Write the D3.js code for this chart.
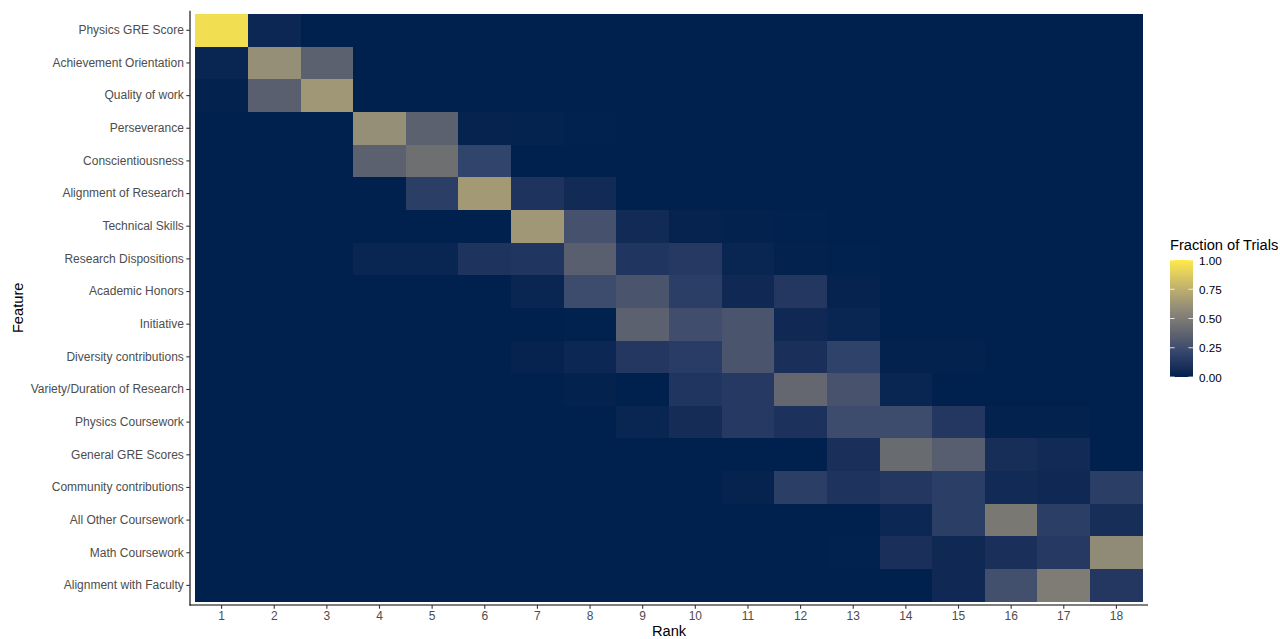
<!DOCTYPE html>
<html>
<head>
<meta charset="utf-8">
<script src="https://cdn.jsdelivr.net/npm/d3@7"></script>
<style>
  html, body { margin: 0; padding: 0; background: #ffffff; }
  svg { display: block; font-family: "Liberation Sans", Arial, Helvetica, sans-serif; }
</style>
</head>
<body>
<svg id="chart" width="1280" height="639"></svg>
<script>
// ---- Data ----
const features = [
  "Physics GRE Score",
  "Achievement Orientation",
  "Quality of work",
  "Perseverance",
  "Conscientiousness",
  "Alignment of Research",
  "Technical Skills",
  "Research Dispositions",
  "Academic Honors",
  "Initiative",
  "Diversity contributions",
  "Variety/Duration of Research",
  "Physics Coursework",
  "General GRE Scores",
  "Community contributions",
  "All Other Coursework",
  "Math Coursework",
  "Alignment with Faculty"
];
const ranks = [1,2,3,4,5,6,7,8,9,10,11,12,13,14,15,16,17,18];

// fraction of trials: one row per feature, one value per rank 1..18
const rowPhysicsGRE      = [0.95,0.04,0,0,0,0,0,0,0,0,0,0,0,0,0,0,0,0];
const rowAchievement     = [0.03,0.60,0.36,0,0,0,0,0,0,0,0,0,0,0,0,0,0,0];
const rowQuality         = [0.01,0.35,0.64,0,0,0,0,0,0,0,0,0,0,0,0,0,0,0];
const rowPerseverance    = [0,0,0,0.60,0.36,0.02,0.015,0.005,0,0,0,0,0,0,0,0,0,0];
const rowConscientious   = [0,0,0,0.36,0.43,0.20,0,0,0,0,0,0,0,0,0,0,0,0];
const rowAlignResearch   = [0,0,0,0,0.17,0.65,0.11,0.06,0,0,0,0,0,0,0,0,0,0];
const rowTechnical       = [0,0,0,0,0,0,0.64,0.27,0.06,0.02,0.01,0.005,0,0,0,0,0,0];
const rowResearchDisp    = [0,0,0,0.03,0.03,0.11,0.12,0.35,0.12,0.14,0.03,0.01,0.005,0,0,0,0,0];
const rowAcademicHonors  = [0,0,0,0,0,0,0.03,0.24,0.29,0.17,0.05,0.13,0.02,0,0,0,0,0];
const rowInitiative      = [0,0,0,0,0,0,0,0.005,0.36,0.25,0.29,0.05,0.03,0,0,0,0,0];
const rowDiversity       = [0,0,0,0,0,0,0.02,0.04,0.13,0.16,0.29,0.09,0.19,0.01,0.01,0,0,0];
const rowVariety         = [0,0,0,0,0,0,0,0.01,0,0.12,0.14,0.39,0.28,0.03,0,0,0,0];
const rowPhysicsCourse   = [0,0,0,0,0,0,0,0,0.03,0.07,0.14,0.10,0.24,0.24,0.13,0.01,0.01,0];
const rowGeneralGRE      = [0,0,0,0,0,0,0,0,0,0,0,0,0.09,0.41,0.34,0.08,0.06,0];
const rowCommunity       = [0,0,0,0,0,0,0,0,0,0,0.02,0.17,0.11,0.13,0.17,0.06,0.05,0.17];
const rowAllOther        = [0,0,0,0,0,0,0,0,0,0,0,0,0,0.04,0.17,0.48,0.17,0.08];
const rowMath            = [0,0,0,0,0,0,0,0,0,0,0,0,0.005,0.09,0.05,0.09,0.14,0.58];
const rowAlignFaculty    = [0,0,0,0,0,0,0,0,0,0,0,0,0,0,0.05,0.26,0.50,0.13];

const values = [
  rowPhysicsGRE, rowAchievement, rowQuality, rowPerseverance, rowConscientious,
  rowAlignResearch, rowTechnical, rowResearchDisp, rowAcademicHonors, rowInitiative,
  rowDiversity, rowVariety, rowPhysicsCourse, rowGeneralGRE, rowCommunity,
  rowAllOther, rowMath, rowAlignFaculty
];

const legendTicks = [0, 0.25, 0.5, 0.75, 1];
const cividisStops = ["#00204D","#31446B","#666970","#958F78","#CBBA69","#FFEA46"];

// ---- Layout ----
const panel = { left: 190, right: 1148, top: 10.7, bottom: 605 };
const svg = d3.select("#chart");

const x = d3.scaleBand().domain(ranks).range([panel.left, panel.right])
  .paddingInner(0).paddingOuter(0.1);
const y = d3.scaleBand().domain(features).range([panel.top, panel.bottom])
  .paddingInner(0).paddingOuter(0.1);

const color = d3.scaleSequential(d3.piecewise(d3.interpolateLab, cividisStops)).domain([0, 1]);

const cells = [];
features.forEach((f, i) => ranks.forEach((r, j) => cells.push({ f, r, v: values[i][j] })));

svg.append("g").selectAll("rect").data(cells).join("rect")
  .attr("x", d => x(d.r))
  .attr("y", d => y(d.f))
  .attr("width", x.bandwidth() + 0.4)
  .attr("height", y.bandwidth() + 0.4)
  .attr("fill", d => color(d.v))
  .attr("shape-rendering", "crispEdges");

// ---- Axes ----
const xAxis = svg.append("g")
  .attr("transform", `translate(0,${panel.bottom})`)
  .call(d3.axisBottom(x).tickSizeOuter(0).tickSize(3.7).tickPadding(2.5));
const yAxis = svg.append("g")
  .attr("transform", `translate(${panel.left},0)`)
  .call(d3.axisLeft(y).tickSizeOuter(0).tickSize(3.7).tickPadding(2.5));

[xAxis, yAxis].forEach(g => {
  g.select(".domain").attr("stroke", "#000").attr("stroke-width", 1.1);
  g.selectAll(".tick line").attr("stroke", "#333333").attr("stroke-width", 1.1);
  g.selectAll(".tick text").attr("fill", "#4D4D4D")
    .style("font-size", "12px")
    .style("font-family", "'Liberation Sans', Arial, sans-serif");
});
// extend axis lines to join at the corner
xAxis.select(".domain").attr("d", `M${panel.left - 0.55},0H${panel.right}`);
yAxis.select(".domain").attr("d", `M0,${panel.top}V${panel.bottom + 0.55}`);

// axis titles
svg.append("text")
  .attr("x", (panel.left + panel.right) / 2)
  .attr("y", 635.5)
  .attr("text-anchor", "middle")
  .style("font-size", "14.67px")
  .attr("fill", "#000")
  .text("Rank");

svg.append("text")
  .attr("transform", `translate(23,${(panel.top + panel.bottom) / 2}) rotate(-90)`)
  .attr("text-anchor", "middle")
  .style("font-size", "14.67px")
  .attr("fill", "#000")
  .text("Feature");

// ---- Legend ----
const lg = { x: 1170, w: 23, top: 260, bottom: 377 };
const ly = d3.scaleLinear().domain([0, 1]).range([lg.bottom, lg.top]);

const defs = svg.append("defs");
const grad = defs.append("linearGradient").attr("id", "cbar")
  .attr("x1", 0).attr("y1", 1).attr("x2", 0).attr("y2", 0);
d3.range(0, 1.0001, 0.02).forEach(t => {
  grad.append("stop").attr("offset", t).attr("stop-color", color(t));
});

svg.append("text")
  .attr("x", lg.x)
  .attr("y", 250)
  .style("font-size", "14.67px")
  .attr("fill", "#000")
  .text("Fraction of Trials");

svg.append("rect")
  .attr("x", lg.x).attr("y", lg.top)
  .attr("width", lg.w).attr("height", lg.bottom - lg.top)
  .attr("fill", "url(#cbar)");

const lt = svg.append("g");
lt.selectAll("line.l").data(legendTicks).join("line")
  .attr("x1", lg.x).attr("x2", lg.x + 4.6)
  .attr("y1", d => ly(d)).attr("y2", d => ly(d))
  .attr("stroke", "#ffffff").attr("stroke-opacity", 0.8).attr("stroke-width", 1);
lt.selectAll("line.r").data(legendTicks).join("line")
  .attr("x1", lg.x + lg.w - 4.6).attr("x2", lg.x + lg.w)
  .attr("y1", d => ly(d)).attr("y2", d => ly(d))
  .attr("stroke", "#ffffff").attr("stroke-opacity", 0.8).attr("stroke-width", 1);

lt.selectAll("text").data(legendTicks).join("text")
  .attr("x", 1199)
  .attr("y", d => ly(d) + 0.5)
  .attr("dy", "0.35em")
  .style("font-size", "11.7px")
  .attr("fill", "#000")
  .text(d => d3.format(".2f")(d));
</script>
</body>
</html>
